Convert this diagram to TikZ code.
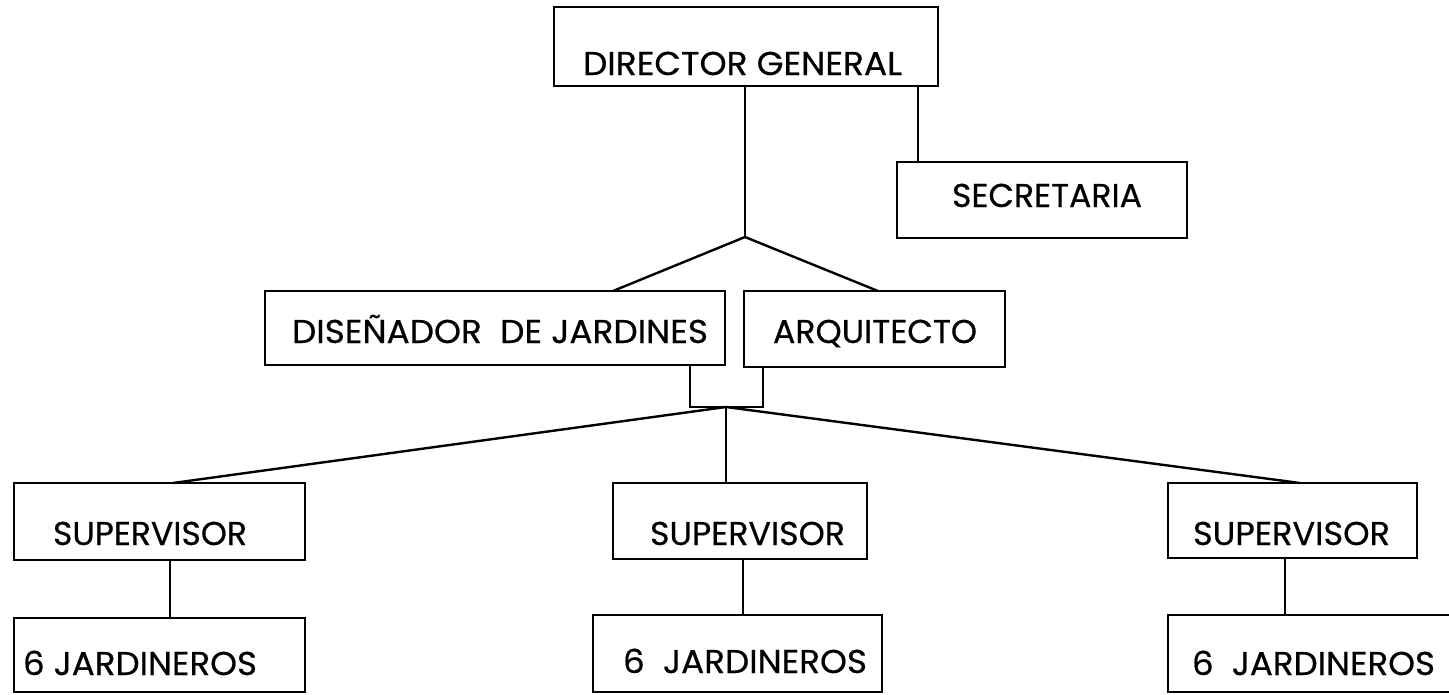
\documentclass[tikz,border=0pt]{standalone}
\usepackage{fontspec}
\setmainfont{Poppins}[FakeBold=0.5]
\usepackage{graphicx}
\tikzset{
  box/.style={draw=black, line width=2pt, rectangle, inner sep=0pt, outer sep=0pt},
  lbl/.style={anchor=base west, inner sep=0pt, outer sep=0pt, font=\fontsize{33}{39}\selectfont},
  conn/.style={draw=black, line width=2.4pt}
}
\newcommand\fitw[2]{\resizebox{#1}{\height}{#2}}
\begin{document}
\begin{tikzpicture}[x=1pt,y=-1pt]
\clip (0,0) rectangle (1449,694);
\fill[white] (0,0) rectangle (1449,694);
% boxes
\node[box, minimum width=384pt, minimum height=79pt] (dg) at (746,46.5) {};
\node[box, minimum width=290pt, minimum height=76pt] (sec) at (1042,200) {};
\node[box, minimum width=460pt, minimum height=74pt] (dis) at (495,328) {};
\node[box, minimum width=261pt, minimum height=76pt] (arq) at (874.5,329) {};
\node[box, minimum width=291pt, minimum height=77pt] (s1) at (159.5,521.5) {};
\node[box, minimum width=254pt, minimum height=76pt] (s2) at (740,521) {};
\node[box, minimum width=249pt, minimum height=75pt] (s3) at (1292.5,520.5) {};
\node[box, minimum width=291pt, minimum height=74pt] (j1) at (159.5,655) {};
\node[box, minimum width=289pt, minimum height=77pt] (j2) at (737.5,653.5) {};
\node[box, minimum width=302pt, minimum height=77pt] (j3) at (1319,653.5) {};
% labels
\node[lbl] (tdg) at (583,75) {\fitw{319pt}{DIRECTOR GENERAL}};
\node[lbl] (tsec) at (952,207) {\fitw{190pt}{SECRETARIA}};
\node[lbl] (tdis) at (292,343) {\fitw{416pt}{DISEÑADOR\ \ DE JARDINES}};
\node[lbl] (tarq) at (773,343) {\fitw{204pt}{ARQUITECTO}};
\node[lbl] (ts1) at (53,545) {\fitw{194pt}{SUPERVISOR}};
\node[lbl] (ts2) at (650,545) {\fitw{195pt}{SUPERVISOR}};
\node[lbl] (ts3) at (1193,545) {\fitw{197pt}{SUPERVISOR}};
\node[lbl] (tj1) at (23,675) {\fitw{234pt}{6 JARDINEROS}};
\node[lbl] (tj2) at (623,673) {\fitw{244pt}{6\ \ JARDINEROS}};
\node[lbl] (tj3) at (1192,675) {\fitw{243pt}{6\ \ JARDINEROS}};
% coordinates
\coordinate (apex) at (745,237);
\coordinate (brk) at (726,407);
% connectors
\draw[conn] (dg.south -| apex) -- (apex);
\draw[conn] (apex) -- ([xshift=348pt]dis.north west);
\draw[conn] (apex) -- ([xshift=134pt]arq.north west);
\draw[conn] ([xshift=-20pt]dg.south east) -- ([xshift=21pt]sec.north west);
\draw[conn] ([xshift=-35pt]dis.south east) |- (brk) -| ([xshift=19pt]arq.south west);
\draw[conn] (brk) -- ([xshift=159pt]s1.north west);
\draw[conn] (brk) -- (s2.north -| brk);
\draw[conn] (brk) -- ([xshift=132pt]s3.north west);
\draw[conn] ([xshift=156pt]s1.south west) -- ([xshift=156pt]j1.north west);
\draw[conn] ([xshift=130pt]s2.south west) -- ([xshift=150pt]j2.north west);
\draw[conn] ([xshift=117pt]s3.south west) -- ([xshift=117pt]j3.north west);
\end{tikzpicture}
\end{document}
